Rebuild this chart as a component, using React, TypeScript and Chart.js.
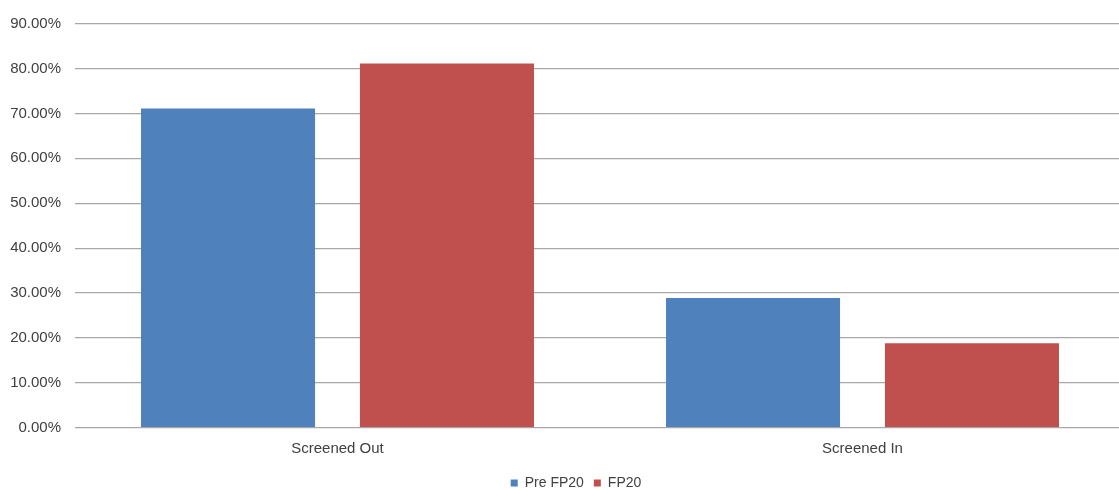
import React, { useEffect, useRef } from "react";
import { Chart, registerables } from "chart.js";

Chart.register(...registerables);

const categories = ["Screened Out", "Screened In"];
const preFP20 = [71.1, 28.9];
const fp20 = [81.1, 18.8];
const seriesLabels = ["Pre FP20", "FP20"];
const yMin = 0;
const yMax = 90;
const yStep = 10;

const CANVAS_W = 1152;
const CANVAS_H = 500;
const PLOT_BOTTOM = 427.7;

export default function App() {
  const ref = useRef<HTMLCanvasElement | null>(null);

  useEffect(() => {
    document.body.style.margin = "0";
    document.body.style.overflow = "hidden";
    const canvas = ref.current;
    if (!canvas) return;
    const font = { family: "'Liberation Sans', Arial, sans-serif", size: 15 };
    const chart = new Chart(canvas, {
      type: "bar",
      data: {
        labels: categories,
        datasets: [
          {
            label: seriesLabels[0],
            data: preFP20,
            backgroundColor: "#4F81BD",
            borderWidth: 0,
            categoryPercentage: 0.834,
            barPercentage: 0.795,
          },
          {
            label: seriesLabels[1],
            data: fp20,
            backgroundColor: "#C0504D",
            borderWidth: 0,
            categoryPercentage: 0.834,
            barPercentage: 0.795,
          },
        ],
      },
      options: {
        responsive: false,
        animation: false,
        layout: { padding: { top: 23.6, left: 0, right: 0, bottom: 0 } },
        plugins: {
          tooltip: { enabled: false },
          legend: {
            position: "bottom",
            labels: {
              boxWidth: 7,
              boxHeight: 7,
              padding: 10,
              color: "#404040",
              font: { family: font.family, size: 14 },
            },
          },
        },
        scales: {
          x: {
            grid: { display: false, drawTicks: false },
            border: { display: false },
            ticks: { color: "#404040", font, padding: 12 },
            afterFit: (s: any) => {
              const lg = s.chart.legend;
              const lh = lg && lg.height ? lg.height : 34;
              s.height = CANVAS_H - lh - PLOT_BOTTOM;
            },
          },
          y: {
            min: yMin,
            max: yMax,
            grid: { color: "#a8a8a8", lineWidth: 1.2, drawTicks: false },
            border: { display: false },
            ticks: {
              stepSize: yStep,
              color: "#404040",
              font,
              padding: 14,
              callback: (v: any) => Number(v).toFixed(2) + "%",
            },
            afterFit: (s: any) => {
              s.width = 75;
            },
          },
          y2: {
            position: "right",
            display: true,
            grid: { display: false, drawTicks: false },
            border: { display: false },
            ticks: { display: false },
            afterFit: (s: any) => {
              s.width = 27;
            },
          },
        },
      },
    });
    return () => chart.destroy();
  }, []);

  return (
    <div
      style={{
        position: "fixed",
        left: 0,
        top: 0,
        width: 1119,
        height: 490,
        overflow: "hidden",
        background: "#fff",
      }}
    >
      <canvas ref={ref} width={CANVAS_W} height={CANVAS_H} style={{ display: "block" }} />
    </div>
  );
}
